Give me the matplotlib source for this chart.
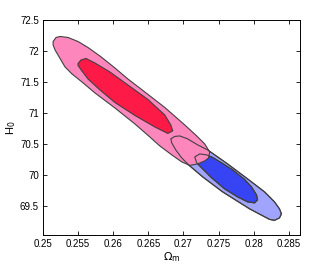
import matplotlib
matplotlib.use("Agg")
import matplotlib.pyplot as plt
from matplotlib.patches import Polygon

# Contour outlines (Omega_m, H0)
pink_outer_x = [0.25144, 0.25186, 0.25243, 0.25357, 0.25499, 0.25641, 0.25811, 0.26024, 0.26209,
                0.26422, 0.26734, 0.27019, 0.27189, 0.27303, 0.27374, 0.27359, 0.27303, 0.27203,
                0.27090, 0.26976, 0.26834, 0.26663, 0.26521, 0.26308, 0.26024, 0.25740, 0.25555,
                0.25413, 0.25314, 0.25243, 0.25172, 0.25144]
pink_outer_y = [72.153, 72.218, 72.234, 72.218, 72.153, 72.056, 71.919, 71.726, 71.548,
                71.363, 71.089, 70.806, 70.629, 70.500, 70.371, 70.274, 70.226, 70.177,
                70.153, 70.210, 70.323, 70.468, 70.613, 70.823, 71.081, 71.323, 71.500,
                71.629, 71.742, 71.879, 72.016, 72.097]

red_inner_x = [0.25499, 0.25541, 0.25612, 0.25740, 0.25953, 0.26209, 0.26493, 0.26734, 0.26820,
               0.26848, 0.26777, 0.26592, 0.26308, 0.26024, 0.25811, 0.25641, 0.25555, 0.25499]
red_inner_y = [71.798, 71.855, 71.879, 71.806, 71.661, 71.452, 71.218, 70.968, 70.806,
               70.710, 70.669, 70.774, 70.960, 71.169, 71.371, 71.548, 71.677, 71.766]

blue_outer_x = [0.26820, 0.26877, 0.26948, 0.27061, 0.27203, 0.27345, 0.27629, 0.27913, 0.28155,
                0.28297, 0.28368, 0.28396, 0.28368, 0.28297, 0.28226, 0.27942, 0.27558, 0.27274,
                0.27090, 0.26976, 0.26891, 0.26834]
blue_outer_y = [70.581, 70.621, 70.629, 70.581, 70.484, 70.403, 70.177, 69.936, 69.726,
                69.565, 69.452, 69.371, 69.306, 69.266, 69.282, 69.452, 69.726, 69.968,
                70.145, 70.274, 70.403, 70.516]

blue_inner_x = [0.27161, 0.27232, 0.27331, 0.27416, 0.27544, 0.27700, 0.27871, 0.27970, 0.28041,
                0.28056, 0.28013, 0.27913, 0.27771, 0.27587, 0.27402, 0.27274, 0.27189]
blue_inner_y = [70.290, 70.339, 70.323, 70.282, 70.194, 70.081, 69.927, 69.806, 69.677,
                69.597, 69.548, 69.565, 69.645, 69.774, 69.952, 70.097, 70.194]

xticks = [0.25, 0.255, 0.26, 0.265, 0.27, 0.275, 0.28, 0.285]
xtick_labels = ["0.25", "0.255", "0.26", "0.265", "0.27", "0.275", "0.28", "0.285"]
yticks = [69.5, 70, 70.5, 71, 71.5, 72, 72.5]
ytick_labels = ["69.5", "70", "70.5", "71", "71.5", "72", "72.5"]

plt.rcParams['font.family'] = ['Liberation Sans', 'DejaVu Sans']

fig = plt.figure(figsize=(3.32, 2.65), dpi=100)
ax = fig.add_axes([0.1295, 0.1132, 0.7741, 0.8113])

edge = '#404040'
lw = 0.8

def poly(xs, ys, fc, z, fill=True):
    p = Polygon(list(zip(xs, ys)), closed=True, facecolor=fc if fill else 'none',
                edgecolor=edge, linewidth=lw, zorder=z, fill=fill)
    ax.add_patch(p)

poly(blue_outer_x, blue_outer_y, '#a0a4fc', 1)
poly(blue_inner_x, blue_inner_y, '#3644f4', 2)
poly(pink_outer_x, pink_outer_y, '#fd87bd', 3)
poly(red_inner_x, red_inner_y, '#fd1a46', 4)
# blue outlines show through the pink region
poly(blue_outer_x, blue_outer_y, 'none', 5, fill=False)
poly(blue_inner_x, blue_inner_y, 'none', 5, fill=False)

ax.set_xlim(0.25, 0.2866)
ax.set_ylim(69.03, 72.5)
ax.set_xticks(xticks)
ax.set_xticklabels(xtick_labels)
ax.set_yticks(yticks)
ax.set_yticklabels(ytick_labels)
ax.tick_params(direction='in', top=True, right=True, labelsize=7, length=3, width=0.6, pad=3)
for s in ax.spines.values():
    s.set_linewidth(0.7)

ax.set_xlabel(r'$\Omega_{\rm m}$', fontsize=8, labelpad=1)
ax.set_ylabel(r'H$_0$', fontsize=8, labelpad=1)

fig.savefig('out.png', dpi=100)
